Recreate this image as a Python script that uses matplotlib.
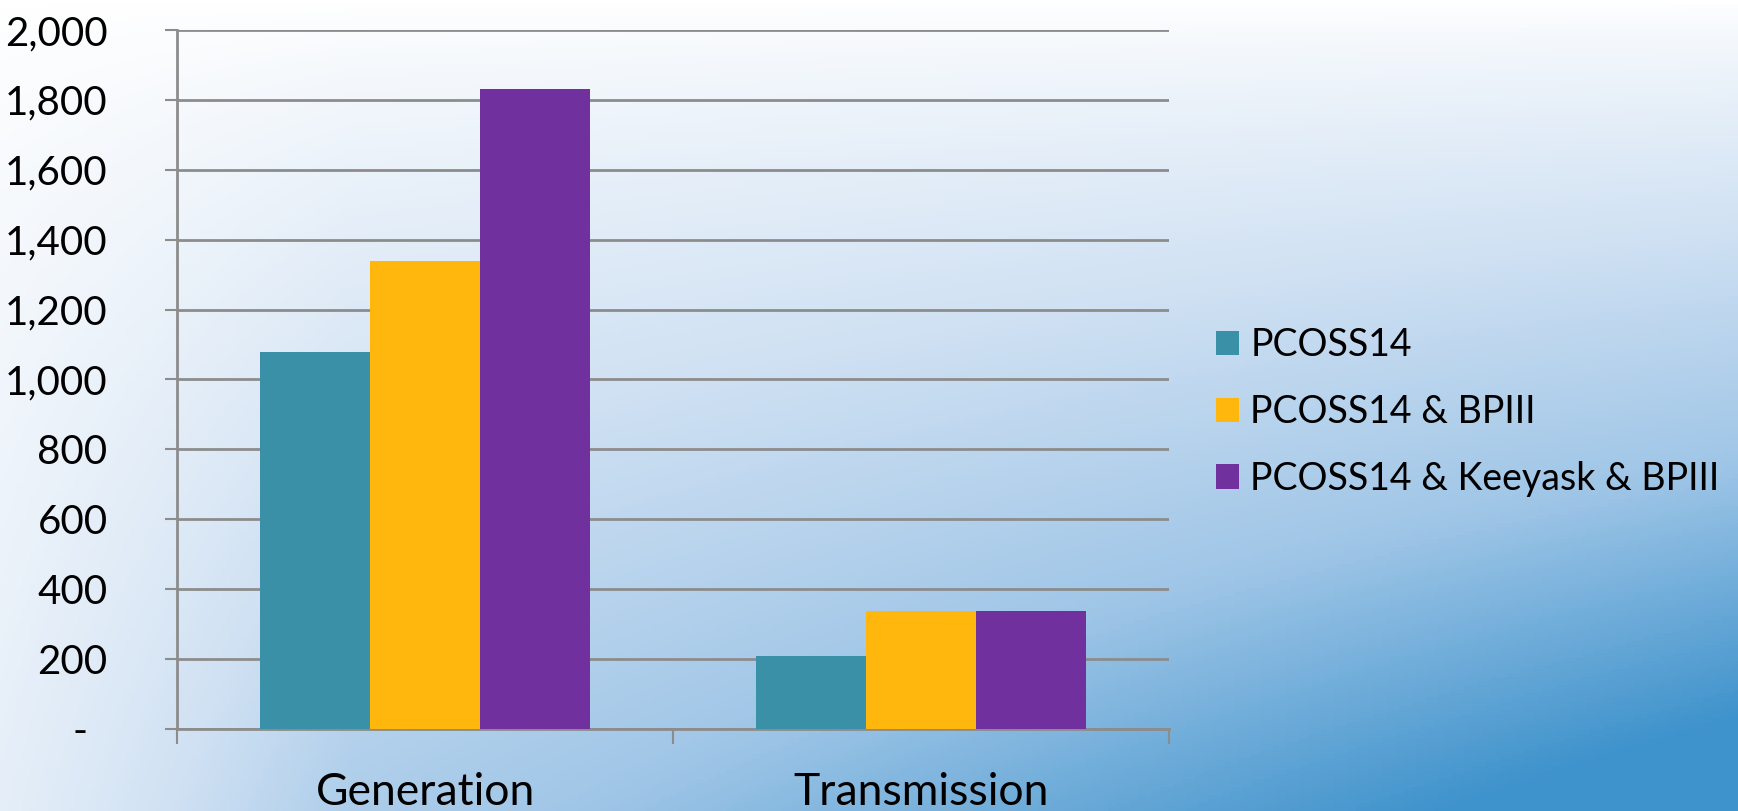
import numpy as np
import matplotlib
matplotlib.use("Agg")
import matplotlib.pyplot as plt
from matplotlib.colors import LinearSegmentedColormap
from matplotlib.transforms import ScaledTranslation

categories = ["Generation", "Transmission"]
series = ["PCOSS14", "PCOSS14 & BPIII", "PCOSS14 & Keeyask & BPIII"]
pcoss14 = [1080, 210]
pcoss14_bpiii = [1340, 337]
pcoss14_keeyask_bpiii = [1830, 337]
colors = ["#3a90a7", "#ffb70d", "#70309e"]
yticks = [0, 200, 400, 600, 800, 1000, 1200, 1400, 1600, 1800, 2000]
ytick_labels = ["-"] + [f"{v:,}" for v in yticks[1:]]

plt.rcParams["font.family"] = ["Lato", "DejaVu Sans"]

W, H = 1738, 811
fig = plt.figure(figsize=(W / 100, H / 100), dpi=100)

# background gradient: white top/left, blue bottom-right
bg = fig.add_axes([0, 0, 1, 1], zorder=-10)
u, v = np.meshgrid(np.linspace(0, 1, 400), np.linspace(0, 1, 200))
t = v ** 0.8 * (0.5 + 0.6 * u) * (0.45 + 0.55 * np.clip(u / 0.2, 0, 1))
t = np.clip(t, 0, 1)
cmap = LinearSegmentedColormap.from_list(
    "bg", [(0, "#ffffff"), (0.4, "#d0e1f3"), (0.7, "#a0c6e7"), (1, "#3f93cc")])
bg.imshow(t, cmap=cmap, vmin=0, vmax=1, aspect="auto", extent=[0, 1, 1, 0])
bg.axis("off")

ax = fig.add_axes([177 / W, 1 - 729 / H, (1169 - 177) / W, (729 - 30) / H])
ax.patch.set_alpha(0)

x = np.arange(len(categories))
w = 1 / 4.5
for i, (vals, lab) in enumerate(zip([pcoss14, pcoss14_bpiii, pcoss14_keeyask_bpiii], series)):
    ax.bar(x + (i - 1) * w, vals, width=w, color=colors[i], label=lab, zorder=3)

ax.set_xlim(-0.5, len(categories) - 0.5)
ax.set_ylim(0, 2000)
ax.set_yticks(yticks)
ax.set_yticklabels(ytick_labels, fontsize=29)
ax.yaxis.grid(True, color="#8c8c8c", linewidth=2, zorder=1)
ax.tick_params(axis="y", length=9, width=1.5, color="#8c8c8c", pad=41)

ax.set_xticks([-0.5, 0.5, 1.5])
ax.set_xticklabels([])
ax.set_xticks(x, minor=True)
ax.set_xticklabels(categories, minor=True, fontsize=32)
ax.tick_params(axis="x", which="major", length=11, width=1.5, color="#8c8c8c", direction="out")
ax.tick_params(axis="x", which="minor", length=0, pad=31)

for s in ["top", "right"]:
    ax.spines[s].set_visible(False)
for s in ["left", "bottom"]:
    ax.spines[s].set_color("#8c8c8c")
    ax.spines[s].set_linewidth(2)

# zero label sits further left (accounting format)
lbl = ax.get_yticklabels()[0]
lbl.set_transform(lbl.get_transform() + ScaledTranslation(-0.2, 0, fig.dpi_scale_trans))

fig.legend(loc="center left", bbox_to_anchor=(1216 / W, 1 - 412 / H), frameon=False,
           fontsize=27, handlelength=0.62, handleheight=0.62, handletextpad=0.3,
           labelspacing=0.82, borderpad=0, borderaxespad=0)

fig.savefig("out.png", dpi=100)
